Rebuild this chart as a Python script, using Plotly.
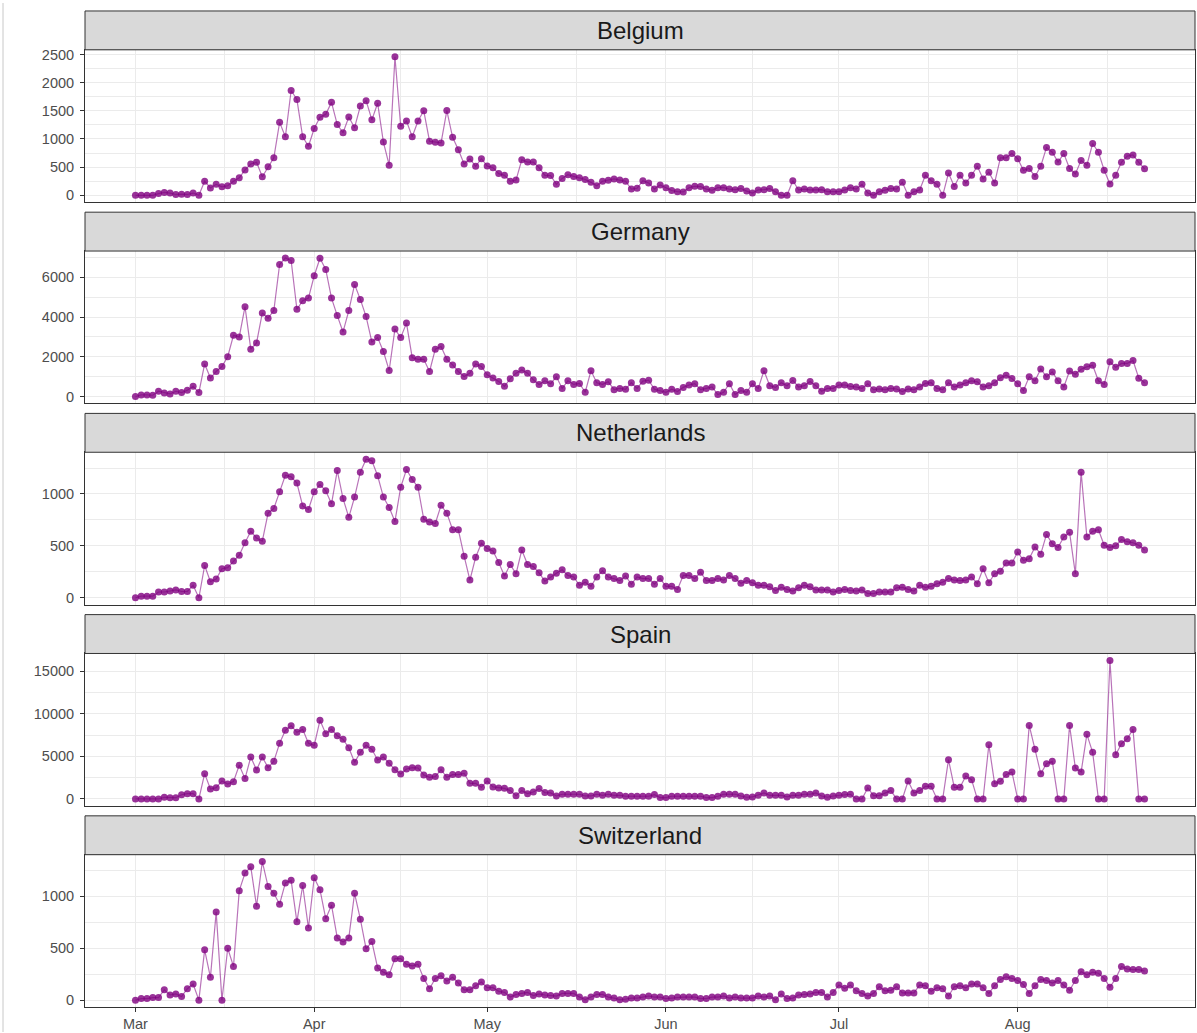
import pandas as pd
import plotly.graph_objects as go

# Daily new cases, 1 Mar - 23 Aug 2020
dates = pd.date_range("2020-03-01", "2020-08-23", freq="D")
countries = ["Belgium", "Germany", "Netherlands", "Spain", "Switzerland"]

belgium = [
    0, 0, 0, 0, 30, 50, 40, 15, 20, 15, 40, 0,
    250, 130, 195, 150, 170, 250, 310, 450, 555, 585, 330,
    505, 665, 1295, 1040, 1860, 1700, 1040, 870,
    1185, 1385, 1440, 1650, 1255, 1110, 1390, 1200, 1585, 1680,
    1340, 1635, 945, 535, 2460, 1225, 1320, 1040, 1320, 1500,
    960, 940, 930, 1505, 1030, 810, 555, 645, 515, 650,
    520, 490, 385, 355, 250, 270, 630, 590,
    590, 490, 355, 350, 195, 300, 365, 335, 310, 280, 230,
    170, 250, 265, 290, 270, 250, 110, 125, 260, 220, 110, 185,
    135, 85, 65, 60, 135, 160, 155, 110, 90, 135,
    135, 110, 100, 120, 75, 40, 95, 100, 120, 65,
    0, 0, 260, 95, 110, 95, 95, 100, 65, 65,
    65, 95, 135, 110, 195, 40, 0, 65, 90, 120,
    110, 230, 0, 65, 95, 355, 260, 195, 0, 395,
    155, 355, 220, 355, 515, 290, 410, 220,
    665, 665, 740, 650, 445, 475, 335, 515, 850, 765,
    590, 740, 475, 380, 620, 535, 920, 765, 445, 200,
    355, 585, 695, 715, 585, 470,
]

germany = [
    0, 80, 80, 65, 265, 180, 130, 265, 200, 315, 515, 200,
    1640, 930, 1260, 1510, 2005, 3080, 3000, 4525, 2385, 2700, 4210,
    3945, 4325, 6645, 6975, 6845, 4390, 4820, 4955,
    6080, 6960, 6395, 4955, 4075, 3250, 4325, 5635, 4890, 4025,
    2750, 2965, 2270, 1310, 3395, 2965, 3695, 1955, 1870, 1870,
    1260, 2385, 2520, 1870, 1590, 1260, 1010, 1175, 1640, 1510,
    1095, 930, 760, 515, 895, 1175, 1340, 1175,
    840, 610, 790, 645, 990, 410, 790, 610, 660, 215, 1300,
    695, 610, 740, 345, 410, 365, 695, 410, 775, 825, 365, 300,
    215, 365, 250, 460, 580, 645, 345, 410, 480, 100,
    215, 645, 100, 300, 215, 645, 410, 1300, 545, 460,
    695, 545, 810, 480, 545, 760, 545, 265, 410, 410,
    580, 580, 510, 480, 410, 645, 345, 380, 345, 410,
    380, 250, 380, 345, 480, 660, 695, 410, 345, 695,
    480, 580, 695, 790, 740, 480, 545, 695,
    940, 1070, 910, 645, 300, 990, 790, 1385, 990, 1240,
    790, 480, 1285, 1120, 1370, 1500, 1570, 790, 610, 1750,
    1470, 1665, 1665, 1815, 925, 695,
]

netherlands = [
    0, 15, 15, 15, 55, 55, 65, 75, 60, 60, 120, 0,
    310, 155, 180, 280, 290, 355, 410, 530, 640, 575, 545,
    815, 860, 1020, 1180, 1165, 1105, 885, 850,
    1020, 1090, 1030, 905, 1225, 955, 775, 970, 1210, 1335,
    1320, 1175, 970, 870, 735, 1065, 1235, 1140, 1065, 755,
    730, 715, 890, 815, 655, 655, 400, 170, 390, 525,
    475, 450, 340, 210, 320, 230, 460, 320,
    300, 240, 160, 200, 235, 270, 215, 200, 120, 150, 110,
    200, 260, 200, 185, 165, 210, 130, 200, 185, 185, 130, 185,
    110, 110, 80, 215, 215, 185, 245, 165, 165, 185,
    170, 215, 185, 140, 165, 145, 120, 120, 105, 70,
    100, 80, 65, 95, 120, 105, 75, 75, 75, 55,
    70, 80, 70, 65, 75, 40, 40, 55, 55, 55,
    95, 100, 80, 65, 120, 100, 110, 135, 150, 185,
    170, 165, 170, 200, 135, 280, 145, 230,
    255, 335, 335, 440, 360, 375, 490, 420, 610, 520,
    485, 585, 630, 230, 1210, 585, 640, 655, 505, 485,
    500, 560, 540, 530, 505, 460,
]

spain = [
    0, 0, 0, 0, 0, 200, 150, 150, 500, 625, 625, 0,
    2975, 1175, 1330, 2115, 1760, 2035, 3955, 2390, 4930, 3405, 4930,
    3680, 4425, 6540, 8065, 8615, 7830, 8180, 6540,
    6300, 9240, 7675, 8180, 7440, 7010, 6030, 4305, 5480, 6300,
    5835, 4580, 4930, 4190, 3445, 2935, 3525, 3680, 3640, 2820,
    2545, 2625, 3445, 2545, 2860, 2860, 3015, 1840, 1840, 1370,
    2115, 1410, 1290, 1250, 980, 390, 980, 625,
    820, 1215, 745, 705, 350, 550, 550, 550, 550, 350, 350,
    550, 430, 550, 430, 430, 315, 315, 315, 315, 315, 510, 160,
    160, 315, 315, 315, 315, 315, 315, 160, 160, 315,
    550, 550, 550, 350, 200, 235, 430, 705, 430, 430,
    430, 235, 430, 430, 550, 550, 705, 350, 200, 350,
    430, 510, 550, 0, 0, 1290, 390, 390, 705, 980,
    0, 0, 2115, 705, 980, 1490, 1490, 0, 0, 4620,
    1370, 1370, 2700, 2270, 0, 0, 6380, 1800,
    2075, 2860, 3170, 0, 0, 8650, 5835, 2975, 4150, 4425,
    0, 0, 8650, 3640, 3170, 7595, 5480, 0, 0, 16290,
    5205, 6500, 7085, 8180, 0, 0,
]

switzerland = [
    0, 15, 15, 25, 25, 100, 50, 60, 35, 110, 155, 0,
    485, 220, 850, 0, 500, 325, 1055, 1225, 1285, 905, 1335,
    1095, 1030, 925, 1130, 1155, 755, 1105, 695,
    1180, 1065, 785, 915, 600, 560, 600, 1030, 780, 495,
    565, 310, 270, 245, 400, 400, 345, 330, 345, 210,
    110, 210, 235, 185, 220, 165, 100, 100, 140, 175,
    120, 120, 85, 75, 30, 55, 65, 75,
    45, 60, 50, 45, 40, 65, 65, 65, 30, 5, 30,
    55, 55, 30, 20, 5, 10, 20, 20, 30, 40, 30, 30,
    15, 20, 30, 30, 30, 30, 15, 15, 30, 30,
    40, 20, 30, 20, 20, 20, 40, 30, 40, 5,
    60, 15, 20, 50, 55, 60, 75, 75, 30, 75,
    145, 115, 145, 90, 65, 40, 65, 130, 90, 95,
    130, 70, 70, 70, 145, 140, 85, 120, 110, 40,
    130, 140, 120, 155, 155, 120, 65, 140,
    200, 225, 210, 190, 150, 65, 140, 200, 190, 165,
    190, 145, 95, 190, 275, 245, 270, 260, 210, 125,
    210, 325, 300, 295, 295, 280,
]

series = [belgium, germany, netherlands, spain, switzerland]
y_steps = [500, 2000, 500, 5000, 500]

month_starts = pd.date_range("2020-03-01", "2020-09-01", freq="MS")
month_labels = ["Mar", "Apr", "May", "Jun", "Jul", "Aug"]

# ---- layout geometry (pixels) ----
W, H = 1197, 1033
X_LEFT, X_RIGHT = 85, 1195
PANELS = [(47, 200), (249, 402), (451, 604), (653, 806), (855, 1008)]
STRIP_H = 39

FONT = "Liberation Sans, Arial, sans-serif"
GRID = "#EBEBEB"
BORDER = "#333333"
TICKFONT = dict(family=FONT, size=14.5, color="#4D4D4D")

span = dates[-1] - dates[0]
pad = span * 0.05
x_range = [(dates[0] - pad).isoformat(), (dates[-1] + pad).isoformat()]
x_minor = list(month_starts[:-1] + (month_starts[1:] - month_starts[:-1]) / 2)

def py(px):
    return 1 - px / H

fig = go.Figure()
shapes, annotations = [], []
layout = {}

for i, (name, vals) in enumerate(zip(countries, series)):
    n = i + 1
    xa = "x" if n == 1 else f"x{n}"
    ya = "y" if n == 1 else f"y{n}"
    fig.add_trace(go.Scatter(
        x=dates, y=vals, xaxis=xa, yaxis=ya, mode="lines+markers",
        line=dict(color="rgba(128,0,128,0.55)", width=1.2),
        marker=dict(color="rgba(128,0,128,0.8)", size=7),
        hoverinfo="x+y", name=name, showlegend=False,
    ))

    top, bot = PANELS[i]
    lo, hi = min(vals), max(vals)
    yr = [lo - 0.05 * (hi - lo), hi + 0.05 * (hi - lo)]
    last = (i == len(countries) - 1)

    layout["xaxis" if n == 1 else f"xaxis{n}"] = dict(
        domain=[X_LEFT / W, X_RIGHT / W], anchor=ya,
        range=x_range, type="date",
        tickmode="array", tickvals=list(month_starts[:-1]), ticktext=month_labels,
        showticklabels=last, ticks="outside" if last else "",
        ticklen=4, tickcolor=BORDER, tickwidth=1, tickfont=TICKFONT,
        showgrid=True, gridcolor=GRID, gridwidth=1,
        minor=dict(tickvals=x_minor, showgrid=True, gridcolor=GRID, gridwidth=0.6),
        showline=True, mirror=True, linecolor=BORDER, linewidth=1,
        zeroline=False, matches=None if n == 1 else "x", fixedrange=True,
    )
    layout["yaxis" if n == 1 else f"yaxis{n}"] = dict(
        domain=[py(bot), py(top)], anchor=xa, range=yr,
        tickmode="linear", tick0=0, dtick=y_steps[i], tickformat="d",
        ticks="outside", ticklen=4, tickcolor=BORDER, tickwidth=1,
        tickfont=TICKFONT, ticklabelstandoff=3,
        showgrid=True, gridcolor=GRID, gridwidth=1,
        minor=dict(tick0=0, dtick=y_steps[i] / 2, showgrid=True, gridcolor=GRID, gridwidth=0.6),
        showline=True, mirror=True, linecolor=BORDER, linewidth=1,
        zeroline=False, fixedrange=True,
    )

    # facet strip
    shapes.append(dict(
        type="rect", xref="paper", yref="paper",
        x0=X_LEFT / W, x1=X_RIGHT / W, y0=py(top), y1=py(top - STRIP_H),
        fillcolor="#D9D9D9", line=dict(color=BORDER, width=1), layer="above",
    ))
    annotations.append(dict(
        xref="paper", yref="paper", x=(X_LEFT + X_RIGHT) / 2 / W,
        y=py(top - STRIP_H / 2), text=name, showarrow=False,
        xanchor="center", yanchor="middle",
        font=dict(family=FONT, size=24, color="#1A1A1A"),
    ))

# thin frame line on the left edge
shapes.append(dict(type="line", xref="paper", yref="paper",
                   x0=3 / W, x1=3 / W, y0=0, y1=1,
                   line=dict(color="#C8C8C8", width=1)))

fig.update_layout(
    width=W, height=H, margin=dict(l=0, r=0, t=0, b=0),
    paper_bgcolor="white", plot_bgcolor="white",
    showlegend=False, shapes=shapes, annotations=annotations,
    font=dict(family=FONT), **layout,
)

fig.write_html("out.html")
